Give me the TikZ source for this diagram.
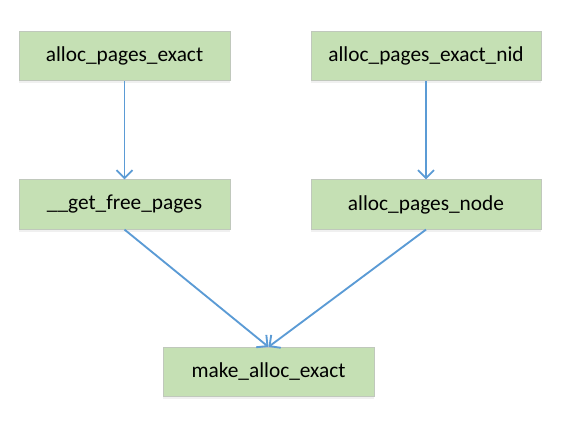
\documentclass[tikz,border=0pt]{standalone}
\usepackage{fontspec}
\setmainfont{Carlito}
\usetikzlibrary{arrows.meta,shadows}
\definecolor{boxfill}{HTML}{C5E0B4}
\definecolor{boxline}{HTML}{C0C8BC}
\definecolor{arrowblue}{HTML}{5B9BD5}
\tikzset{
    func/.style={draw=boxline,fill=boxfill,line width=0.6pt,minimum height=37pt,
        inner sep=0pt,font=\fontsize{16}{19}\selectfont,
        drop shadow={opacity=0.12,shadow xshift=0pt,shadow yshift=-2pt}},
    call/.style={draw=arrowblue,line width=1.4pt,-{Straight Barb[length=6pt,width=12pt]}}
}
\begin{document}
\begin{tikzpicture}[x=0.75pt,y=-0.75pt]
                \useasboundingbox (0,0) rectangle (562,440);
                \node[func,minimum width=158.25pt] (exact) at (124.5,56) {alloc\_pages\_exact};
                \node[func,minimum width=172.5pt] (exactnid) at (426,56) {alloc\_pages\_exact\_nid};
                \node[func,minimum width=158.25pt] (getfree) at (124.5,204.5) {\_\_get\_free\_pages};
                \node[func,minimum width=172.5pt] (pagesnode) at (426,204.5) {alloc\_pages\_node};
                \node[func,minimum width=158.25pt] (makeexact) at (268.5,372) {make\_alloc\_exact};
                \draw[call] (exact.south) -- (getfree.north);
                \draw[call] (exactnid.south) -- (pagesnode.north);
                \draw[call] (getfree.south) -- (makeexact.north);
                \draw[call] (pagesnode.south) -- (makeexact.north);
            \end{tikzpicture}
\end{document}
